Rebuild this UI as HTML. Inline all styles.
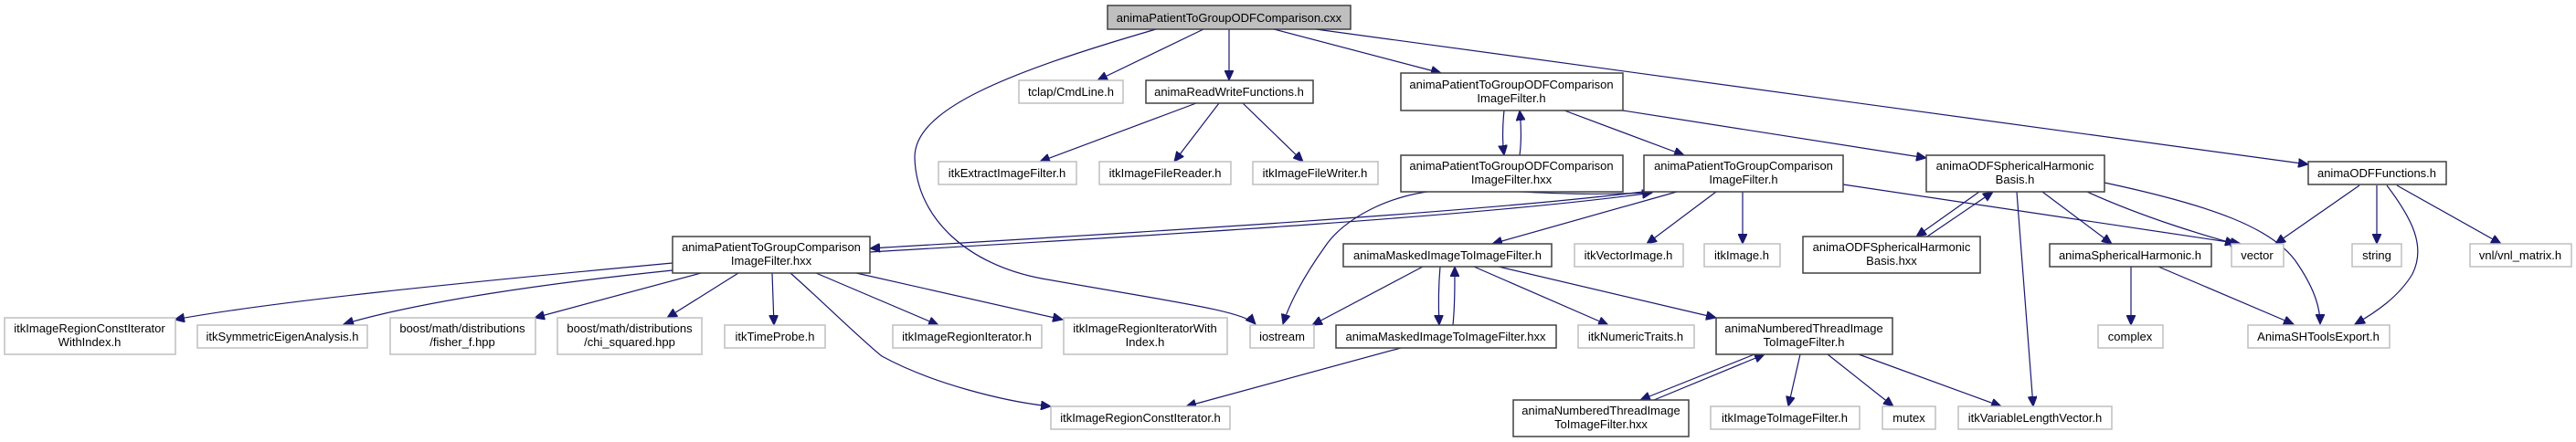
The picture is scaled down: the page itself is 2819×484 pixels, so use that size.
<!DOCTYPE html>
<html><head><meta charset="utf-8"><style>
html,body{margin:0;padding:0;background:#fff;}
svg{display:block;}
text{font-family:"Liberation Sans",sans-serif;font-size:13px;fill:#000;text-anchor:middle;}
.e{fill:none;stroke:#191970;stroke-width:1.2;}
.n{fill:#fff;stroke:#404040;stroke-width:1.5;}
.g{fill:#fff;stroke:#bfbfbf;stroke-width:1.5;}
</style></head><body>
<svg width="2819" height="484" viewBox="0 0 2819 484" xmlns="http://www.w3.org/2000/svg">
<defs>
<marker id="a" markerUnits="userSpaceOnUse" markerWidth="12" markerHeight="10" refX="11" refY="5" orient="auto">
<path d="M0,0 L11,5 L0,10 z" fill="#191970" stroke="#191970"/>
</marker>
</defs>
<g marker-end="url(#a)">
<!-- cxx -->
<path class="e" d="M1265,32 C1100,80 1000,120 1001,173 C1003,240 1060,290 1140,305 C1280,330 1360,340 1374,355"/>
<path class="e" d="M1317,32 L1201,88"/>
<path class="e" d="M1345,32 L1345,88"/>
<path class="e" d="M1394,32 L1577,80"/>
<path class="e" d="M1440,32 L2526,180"/>
<!-- readwrite -->
<path class="e" d="M1309,113 L1138,177"/>
<path class="e" d="M1334,113 L1285,177"/>
<path class="e" d="M1360,113 L1426,177"/>
<!-- ODF filter.h -->
<path class="e" d="M1646,121 C1644,140 1644,155 1646,170"/>
<path class="e" d="M1663,170 C1665,155 1665,140 1663,121"/>
<path class="e" d="M1712,121 L1843,170"/>
<path class="e" d="M1776,121 L2108,173"/>
<!-- PTGC.h -->
<path class="e" d="M1806,209 C1600,235 1150,260 952,272"/>
<path class="e" d="M952,276 C1150,264 1600,240 1808,211"/>
<path class="e" d="M1800,211 C1700,216 1620,205 1580,208 C1520,212 1470,240 1450,270 C1425,305 1410,335 1404,355"/>
<path class="e" d="M1835,210 L1633,267"/>
<path class="e" d="M1878,210 L1802,267"/>
<path class="e" d="M1907,210 L1907,267"/>
<path class="e" d="M2017,202 L2452,267"/>
<!-- ODFSH basis -->
<path class="e" d="M2166,210 L2097,259"/>
<path class="e" d="M2109,259 L2181,210"/>
<path class="e" d="M2207,210 L2225,445"/>
<path class="e" d="M2235,210 L2311,267"/>
<path class="e" d="M2284,210 C2350,240 2420,260 2446,267"/>
<path class="e" d="M2303,200 C2420,225 2490,250 2515,290 C2535,320 2539,340 2539,355"/>
<!-- ODF functions -->
<path class="e" d="M2582,203 L2490,267"/>
<path class="e" d="M2601,203 L2601,267"/>
<path class="e" d="M2612,203 C2640,240 2655,270 2640,300 C2625,325 2600,342 2577,355"/>
<path class="e" d="M2623,203 L2737,267"/>
<!-- spherical harmonic -->
<path class="e" d="M2332,292 L2332,356"/>
<path class="e" d="M2362,292 L2510,355"/>
<!-- masked -->
<path class="e" d="M1557,292 L1436,356"/>
<path class="e" d="M1576,292 C1574,315 1574,335 1575,356"/>
<path class="e" d="M1590,356 C1592,335 1592,315 1592,292"/>
<path class="e" d="M1613,292 L1760,356"/>
<path class="e" d="M1640,292 L1878,348"/>
<path class="e" d="M1533,381 L1298,445"/>
<!-- numbered thread -->
<path class="e" d="M1920,388 L1795,438"/>
<path class="e" d="M1810,438 L1931,388"/>
<path class="e" d="M1970,388 L1957,445"/>
<path class="e" d="M2000,388 L2072,445"/>
<path class="e" d="M2034,388 L2190,445"/>
<!-- hxx -->
<path class="e" d="M736,288 C500,310 300,330 191,350"/>
<path class="e" d="M736,296 C600,310 460,330 376,355"/>
<path class="e" d="M767,299 L585,348"/>
<path class="e" d="M808,299 L730,348"/>
<path class="e" d="M845,299 L847,356"/>
<path class="e" d="M865,299 C900,330 940,370 965,390 C1020,420 1100,440 1150,445"/>
<path class="e" d="M893,299 L1027,356"/>
<path class="e" d="M937,299 L1163,350"/>
</g>
<!-- nodes -->
<rect x="1212" y="6" width="266" height="26" fill="#bfbfbf" stroke="#404040" stroke-width="1.5"/>
<text x="1345" y="24">animaPatientToGroupODFComparison.cxx</text>

<rect class="g" x="1115" y="88" width="114" height="25"/><text x="1172" y="105">tclap/CmdLine.h</text>
<rect class="n" x="1254" y="88" width="183" height="25"/><text x="1345" y="105">animaReadWriteFunctions.h</text>
<rect class="g" x="1027" y="177" width="151" height="25"/><text x="1102" y="194">itkExtractImageFilter.h</text>
<rect class="g" x="1203" y="177" width="144" height="25"/><text x="1275" y="194">itkImageFileReader.h</text>
<rect class="g" x="1371" y="177" width="137" height="25"/><text x="1439" y="194">itkImageFileWriter.h</text>

<rect class="n" x="1533" y="80" width="243" height="41"/><text x="1654" y="97">animaPatientToGroupODFComparison</text><text x="1654" y="112">ImageFilter.h</text>
<rect class="n" x="1533" y="170" width="243" height="40"/><text x="1654" y="186">animaPatientToGroupODFComparison</text><text x="1654" y="201">ImageFilter.hxx</text>
<rect class="n" x="1799" y="170" width="218" height="40"/><text x="1908" y="186">animaPatientToGroupComparison</text><text x="1908" y="201">ImageFilter.h</text>
<rect class="n" x="2108" y="170" width="195" height="40"/><text x="2205" y="186">animaODFSphericalHarmonic</text><text x="2205" y="201">Basis.h</text>
<rect class="n" x="2526" y="177" width="151" height="25"/><text x="2601" y="194">animaODFFunctions.h</text>

<rect class="n" x="736" y="259" width="216" height="40"/><text x="844" y="275">animaPatientToGroupComparison</text><text x="844" y="290">ImageFilter.hxx</text>
<rect class="n" x="1470" y="267" width="228" height="25"/><text x="1584" y="284">animaMaskedImageToImageFilter.h</text>
<rect class="g" x="1723" y="267" width="119" height="25"/><text x="1782" y="284">itkVectorImage.h</text>
<rect class="g" x="1865" y="267" width="83" height="25"/><text x="1906" y="284">itkImage.h</text>
<rect class="n" x="1973" y="259" width="194" height="40"/><text x="2070" y="275">animaODFSphericalHarmonic</text><text x="2070" y="290">Basis.hxx</text>
<rect class="n" x="2243" y="267" width="177" height="25"/><text x="2331" y="284">animaSphericalHarmonic.h</text>
<rect class="g" x="2442" y="267" width="57" height="25"/><text x="2470" y="284">vector</text>
<rect class="g" x="2574" y="267" width="54" height="25"/><text x="2601" y="284">string</text>
<rect class="g" x="2703" y="267" width="111" height="25"/><text x="2758" y="284">vnl/vnl_matrix.h</text>

<rect class="g" x="5" y="348" width="187" height="40"/><text x="98" y="364">itkImageRegionConstIterator</text><text x="98" y="379">WithIndex.h</text>
<rect class="g" x="216" y="356" width="186" height="25"/><text x="309" y="373">itkSymmetricEigenAnalysis.h</text>
<rect class="g" x="427" y="348" width="159" height="40"/><text x="506" y="364">boost/math/distributions</text><text x="506" y="379">/fisher_f.hpp</text>
<rect class="g" x="610" y="348" width="158" height="40"/><text x="689" y="364">boost/math/distributions</text><text x="689" y="379">/chi_squared.hpp</text>
<rect class="g" x="793" y="356" width="110" height="25"/><text x="848" y="373">itkTimeProbe.h</text>
<rect class="g" x="977" y="356" width="163" height="25"/><text x="1058" y="373">itkImageRegionIterator.h</text>
<rect class="g" x="1164" y="348" width="179" height="40"/><text x="1253" y="364">itkImageRegionIteratorWith</text><text x="1253" y="379">Index.h</text>
<rect class="g" x="1368" y="356" width="70" height="25"/><text x="1403" y="373">iostream</text>
<rect class="n" x="1462" y="356" width="241" height="25"/><text x="1582" y="373">animaMaskedImageToImageFilter.hxx</text>
<rect class="g" x="1727" y="356" width="127" height="25"/><text x="1790" y="373">itkNumericTraits.h</text>
<rect class="n" x="1878" y="348" width="193" height="40"/><text x="1974" y="364">animaNumberedThreadImage</text><text x="1974" y="379">ToImageFilter.h</text>
<rect class="g" x="2296" y="356" width="71" height="25"/><text x="2331" y="373">complex</text>
<rect class="g" x="2460" y="356" width="155" height="25"/><text x="2537" y="373">AnimaSHToolsExport.h</text>

<rect class="g" x="1150" y="445" width="196" height="25"/><text x="1248" y="462">itkImageRegionConstIterator.h</text>
<rect class="n" x="1656" y="438" width="192" height="40"/><text x="1752" y="454">animaNumberedThreadImage</text><text x="1752" y="469">ToImageFilter.hxx</text>
<rect class="g" x="1872" y="445" width="163" height="25"/><text x="1953" y="462">itkImageToImageFilter.h</text>
<rect class="g" x="2060" y="445" width="58" height="25"/><text x="2089" y="462">mutex</text>
<rect class="g" x="2143" y="445" width="168" height="25"/><text x="2227" y="462">itkVariableLengthVector.h</text>
</svg>
</body></html>
